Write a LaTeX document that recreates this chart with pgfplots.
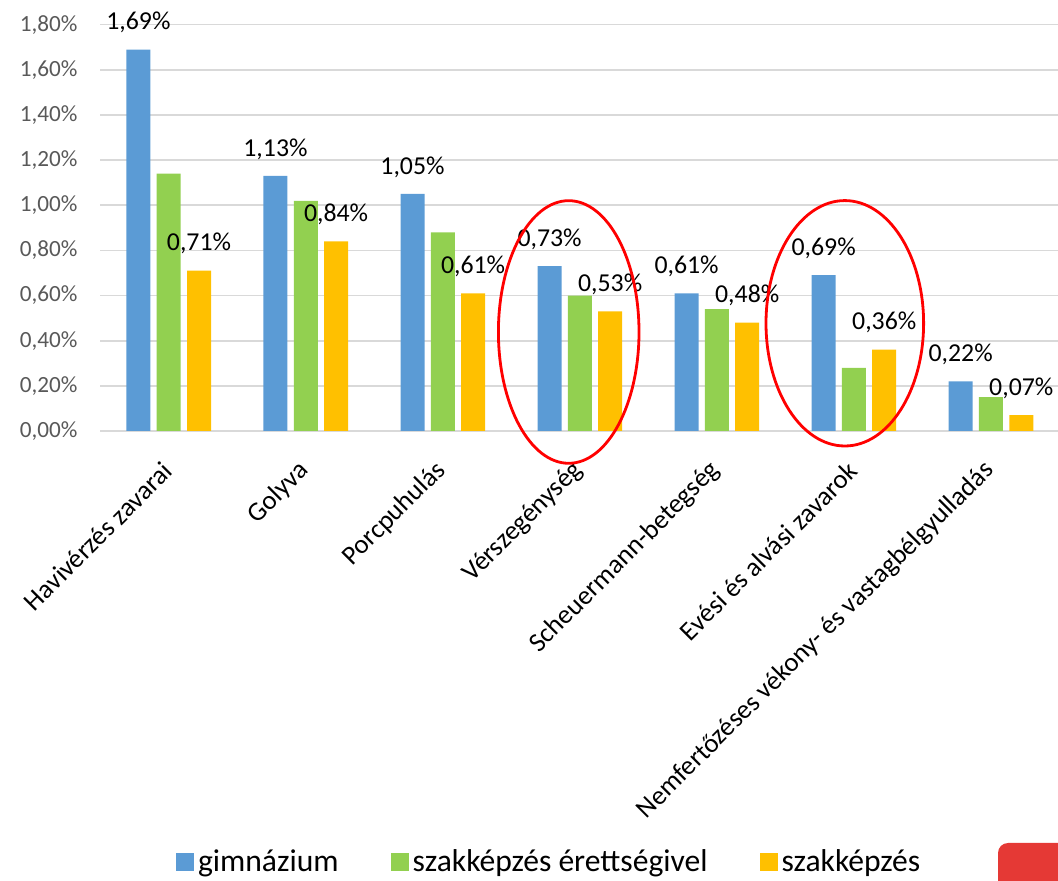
\documentclass[border=0pt]{standalone}
\usepackage{pgfplots}
\pgfplotsset{compat=1.18}
\usepackage{fontspec}
\setmainfont{Carlito}
\definecolor{gimn}{RGB}{91,155,213}
\definecolor{szer}{RGB}{146,208,80}
\definecolor{szak}{RGB}{255,192,0}
\definecolor{gridc}{RGB}{217,217,217}
\definecolor{tickc}{RGB}{89,89,89}
\definecolor{logored}{RGB}{229,57,53}

\begin{document}
\begin{tikzpicture}
\useasboundingbox (0,0) rectangle (529pt,440.5pt);
\begin{axis}[
    at={(50.1pt,225pt)}, anchor=south west,
    scale only axis,
    width=479.65pt, height=203.15pt,
    ybar=3.15pt, bar width=12pt,
    xmin=-0.5, xmax=6.5,
    ymin=0, ymax=1.8,
    axis line style={draw=none},
    major tick length=0pt,
    ymajorgrids,
    grid style={gridc, line width=0.8pt},
    ytick={0,0.2,0.4,0.6,0.8,1.0,1.2,1.4,1.6,1.8},
    yticklabel={\pgfmathprintnumber[fixed,fixed zerofill,precision=2,use comma]{\tick}\%},
    yticklabel style={text=tickc, font=\fontsize{11.6pt}{13pt}\selectfont, xshift=-7.8pt},
    xtick={0,1,2,3,4,5,6},
    xticklabels={Havivérzés zavarai, Golyva, Porcpuhulás, Vérszegénység, Scheuermann-betegség, Evési és alvási zavarok, Nemfertőzéses vékony- és vastagbélgyulladás},
    xticklabel style={rotate=45, anchor=east, text=black, font=\fontsize{13.4pt}{15pt}\selectfont, xshift=-9.5pt, yshift=-12.2pt},
    /pgf/number format/assume math mode=true,
    every node near coord/.append style={anchor=center, yshift=13.5pt, text=black, font=\fontsize{12.9pt}{14pt}\selectfont},
    legend image code/.code={\fill[#1] (0pt,-4.5pt) rectangle (9pt,4.5pt);},
    legend style={at={(0.469,-1.061)}, anchor=center, draw=none, fill=none,
        legend columns=3, font=\fontsize{15.8pt}{18pt}\selectfont,
        /tikz/every even column/.append style={column sep=24pt}},
]
\addplot[fill=gimn, draw=none,
    nodes near coords={\pgfmathprintnumber[fixed,fixed zerofill,precision=2,use comma]{\pgfplotspointmeta}\%}]
    coordinates {(0,1.69) (1,1.13) (2,1.05) (3,0.73) (4,0.61) (5,0.69) (6,0.22)};
\addplot[fill=szer, draw=none]
    coordinates {(0,1.14) (1,1.02) (2,0.88) (3,0.60) (4,0.54) (5,0.28) (6,0.15)};
\addplot[fill=szak, draw=none,
    nodes near coords={\pgfmathprintnumber[fixed,fixed zerofill,precision=2,use comma]{\pgfplotspointmeta}\%}]
    coordinates {(0,0.71) (1,0.84) (2,0.61) (3,0.53) (4,0.48) (5,0.36) (6,0.07)};
\legend{gimnázium, szakképzés érettségivel, szakképzés}
\end{axis}
% annotations in image pixel coordinates
\begin{scope}[x=0.5pt, y=-0.5pt, yshift=440.5pt]
\draw[red, line width=1.4pt] (568.7,332) ellipse [x radius=70.3, y radius=131.3];
\draw[red, line width=1.4pt] (844.8,323.3) ellipse [x radius=78.8, y radius=122.7];
\fill[logored, rounded corners=5pt] (998,900) -- (998,843) -- (1070,843) -- (1070,900) -- cycle;
\end{scope}
\end{tikzpicture}
\end{document}
